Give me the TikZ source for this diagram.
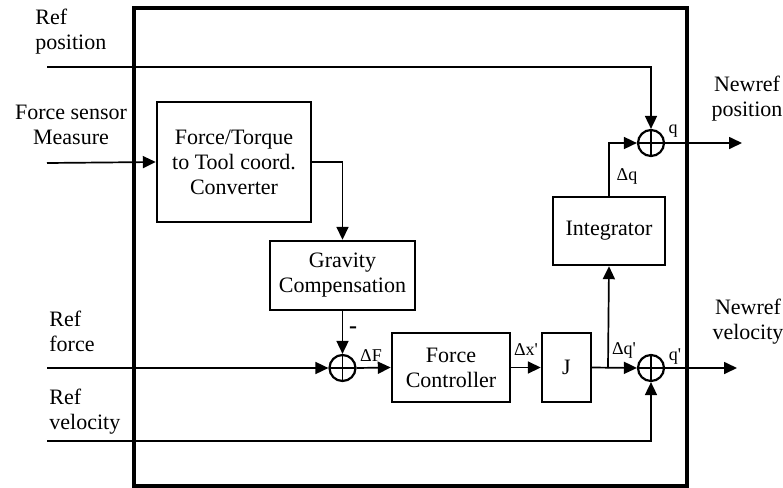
\documentclass[tikz,border=0pt]{standalone}
\usepackage{fontspec}
\setmainfont{Liberation Serif}
\usetikzlibrary{arrows.meta}
\tikzset{
  block/.style={draw, line width=1.2pt, align=center, inner sep=0pt,
    font=\fontsize{11}{12.5}\selectfont},
  sumnode/.style={draw, circle, line width=1.1pt, minimum size=13pt, inner sep=0pt,
    path picture={\draw[line width=0.9pt]
      (path picture bounding box.north) -- (path picture bounding box.south)
      (path picture bounding box.west) -- (path picture bounding box.east);}},
  sig/.style={line width=0.85pt, ->},
  iolbl/.style={inner sep=0pt, font=\fontsize{11}{12.5}\selectfont},
  siglbl/.style={inner sep=0pt, font=\fontsize{9}{10}\selectfont}
}
\begin{document}
\begin{tikzpicture}[x=0.5pt, y=-0.5pt, >={Triangle[length=6.5pt, width=6pt]}]
        \useasboundingbox (0,0) rectangle (783,488);
        % Controller frame
        \draw[line width=1.7pt] (134,8) rectangle (687,486);
        % Blocks
        \node[block, minimum width=77pt, minimum height=60pt] (ftc) at (234,162) {Force/Torque\\to Tool coord.\\Converter};
        \node[block, minimum width=72.5pt, minimum height=34.5pt] (grav) at (342.5,275.5) {Gravity\\Compensation};
        \node[block, minimum width=59pt, minimum height=34.5pt] (fc) at (451,367.5) {Force\\Controller};
        \node[block, minimum width=24.5pt, minimum height=34.5pt] (jac) at (566.5,367.5) {J};
        \node[block, minimum width=56pt, minimum height=34pt] (integ) at (609,231) {Integrator};
        % Summing points
        \node[sumnode] (sp) at (651,143) {};
        \node[sumnode] (sf) at (342.5,368) {};
        \node[sumnode] (sv) at (651,368) {};
        % Inputs and outputs
        \node[iolbl, anchor=west, align=left] (refpos) at (35,32) {Ref\\position};
        \node[iolbl, align=center] (fsens) at (71,125) {Force sensor\\Measure};
        \node[iolbl, anchor=west, align=left] (reff) at (49,331) {Ref\\force};
        \node[iolbl, anchor=west, align=left] (refv) at (49,412) {Ref\\velocity};
        \node[iolbl, align=center] (newpos) at (747,99) {Newref\\position};
        \node[iolbl, align=center] (newvel) at (748,322) {Newref\\velocity};
        \coordinate (inpos) at (47,67);
        \coordinate (infs) at (47,163);
        \coordinate (inf) at (47,368);
        \coordinate (inv) at (47,441);
        \coordinate (outpos) at (742,143);
        \coordinate (outvel) at (737,368);
        \coordinate (br) at (608,368);
        % Signals
        \draw[sig] (inpos) -| (sp.north);
        \draw[sig] (infs) -- (ftc.west);
        \draw[sig] (ftc.east) -| (grav.north);
        \draw[sig] (grav.south) -- (sf.north);
        \draw[sig] (inf) -- (sf.west);
        \draw[sig] (sf.east) -- (fc.west);
        \draw[sig] (fc.east) -- (jac.west);
        \draw[sig] (jac.east) -- (sv.west);
        \draw[sig] (br) -- (integ.south);
        \draw[sig] (integ.north) |- (sp.west);
        \draw[sig] (inv) -| (sv.south);
        \draw[sig] (sp.east) -- (outpos);
        \draw[sig] (sv.east) -- (outvel);
        % Signal labels
        \node[siglbl, font=\fontsize{12}{12}\bfseries] (lminus) at (353,330) {-};
        \node[siglbl] (ldf) at (371,356) {ΔF};
        \node[siglbl] (ldx) at (526,350) {Δx\textquotesingle};
        \node[siglbl] (ldqd) at (624,350) {Δq\textquotesingle};
        \node[siglbl] (ldq) at (627,176) {Δq};
        \node[siglbl] (lq) at (673,131) {q};
        \node[siglbl] (lqd) at (675,357) {q\textquotesingle};
\end{tikzpicture}
\end{document}
